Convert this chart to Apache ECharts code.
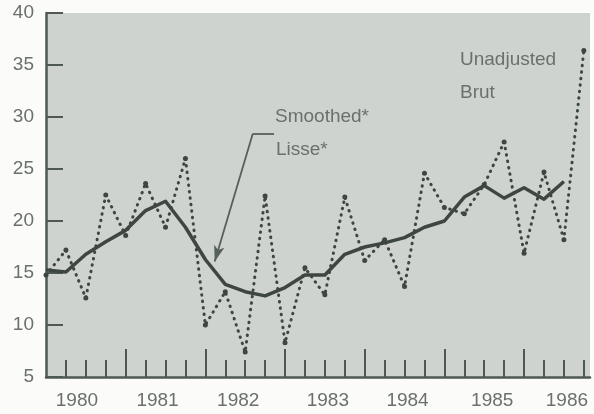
<!DOCTYPE html>
<html>
<head>
<meta charset="utf-8">
<script src="https://cdn.jsdelivr.net/npm/echarts@6/dist/echarts.min.js"></script>
<style>
  html, body { margin: 0; padding: 0; background: #fbfbf9; }
  #main { width: 594px; height: 414px; }
</style>
</head>
<body>
<div id="main"></div>
<script>
// quarterly values, index = quarters since start of 1980
const unadjusted = [14.8, 17.2, 12.6, 22.5, 18.6, 23.6, 19.4, 26.0, 10.0, 13.2, 7.4, 22.4, 8.3, 15.5,
  12.9, 22.3, 16.2, 18.2, 13.7, 24.6, 21.3, 20.7, 23.5, 27.6, 16.9, 24.7, 18.2, 36.4]
const smoothed = [15.3, 15.1, 16.8, 18.0, 19.1, 21.0, 21.9, 19.4, 16.3, 13.9, 13.2, 12.8, 13.6, 14.8,
  14.8, 16.8, 17.5, 17.9, 18.4, 19.4, 20.0, 22.3, 23.4, 22.2, 23.2, 22.1, 23.8, null]

// x axis: year labels sit roughly mid-year, tall ticks at year starts, short ticks each quarter
const yearLabels = ['1980', '1981', '1982', '1983', '1984', '1985', '1986']
const yearLabelAt = [1.55, 5.6, 9.65, 14.15, 18.15, 22.4, 26.15]
const yearTicks = [4, 8, 12, 16, 20, 24]
const quarterTicks = [1, 2, 3, 5, 6, 7, 9, 10, 11, 13, 14, 15, 17, 18, 19, 21, 22, 23, 25, 26, 27]

const axisColor = '#4f5953'
const textColor = '#6a706b'
const lineColor = '#3e4641'
const font = '"Liberation Sans", Arial, sans-serif'

const toPairs = (arr) => arr.map((v, i) => [i, v])

const myChart = echarts.init(document.getElementById('main'))

var option = {
  backgroundColor: '#fbfbf9',
  animation: false,
  grid: {
    left: 46,
    right: 4,
    top: 13,
    bottom: 37,
    show: true,
    backgroundColor: '#cfd3cf',
    borderWidth: 0,
  },
  xAxis: [
    {
      type: 'value',
      min: 0,
      max: 27.31,
      position: 'bottom',
      axisLine: { show: true, onZero: false, lineStyle: { color: axisColor, width: 2.5 } },
      axisTick: { show: true, inside: true, length: 28, customValues: yearTicks, lineStyle: { color: axisColor, width: 2 } },
      axisLabel: {
        customValues: yearLabelAt,
        formatter: (v) => {
          const i = yearLabelAt.findIndex((p) => Math.abs(p - v) < 0.01)
          return i >= 0 ? yearLabels[i] : ''
        },
        color: textColor,
        fontSize: 19,
        fontFamily: font,
        margin: 14,
      },
      splitLine: { show: false },
    },
    {
      type: 'value',
      min: 0,
      max: 27.31,
      position: 'bottom',
      axisLine: { show: false, onZero: false },
      axisTick: { show: true, inside: true, length: 17, customValues: quarterTicks, lineStyle: { color: axisColor, width: 2 } },
      axisLabel: { show: false },
      splitLine: { show: false },
    },
  ],
  yAxis: {
    type: 'value',
    min: 5,
    max: 40,
    interval: 5,
    axisLine: { show: true, lineStyle: { color: axisColor, width: 2.5 } },
    axisTick: { show: true, inside: true, length: 17, lineStyle: { color: axisColor, width: 2 } },
    axisLabel: { color: textColor, fontSize: 19, fontFamily: font, margin: 12 },
    splitLine: { show: false },
  },
  graphic: [
    { type: 'text', left: 275, top: 107, style: { text: 'Smoothed*', fill: textColor, font: '19px ' + font } },
    { type: 'text', left: 276, top: 140, style: { text: 'Lisse*', fill: textColor, font: '19px ' + font } },
    { type: 'text', left: 460, top: 50, style: { text: 'Unadjusted', fill: textColor, font: '19px ' + font } },
    { type: 'text', left: 460, top: 83, style: { text: 'Brut', fill: textColor, font: '19px ' + font } },
  ],
  series: [
    {
      name: 'Unadjusted',
      type: 'line',
      data: toPairs(unadjusted),
      symbol: 'circle',
      symbolSize: 5,
      showAllSymbol: true,
      itemStyle: { color: lineColor },
      lineStyle: { color: lineColor, width: 3, type: [0.5, 6], cap: 'round' },
    },
    {
      name: 'Smoothed',
      type: 'line',
      data: toPairs(smoothed),
      symbol: 'none',
      connectNulls: false,
      lineStyle: { color: lineColor, width: 3.5, join: 'round' },
      markLine: {
        silent: true,
        animation: false,
        label: { show: false },
        lineStyle: { color: '#56605a', width: 1.8, type: 'solid' },
        data: [
          [
            { coord: [10.38, 28.4], symbol: 'none' },
            { coord: [8.47, 16.1], symbol: 'arrow', symbolSize: [8, 16] },
          ],
          [
            { coord: [10.38, 28.4], symbol: 'none' },
            { coord: [11.45, 28.4], symbol: 'none' },
          ],
        ],
      },
    },
  ],
}
option && myChart.setOption(option)
</script>
</body>
</html>
